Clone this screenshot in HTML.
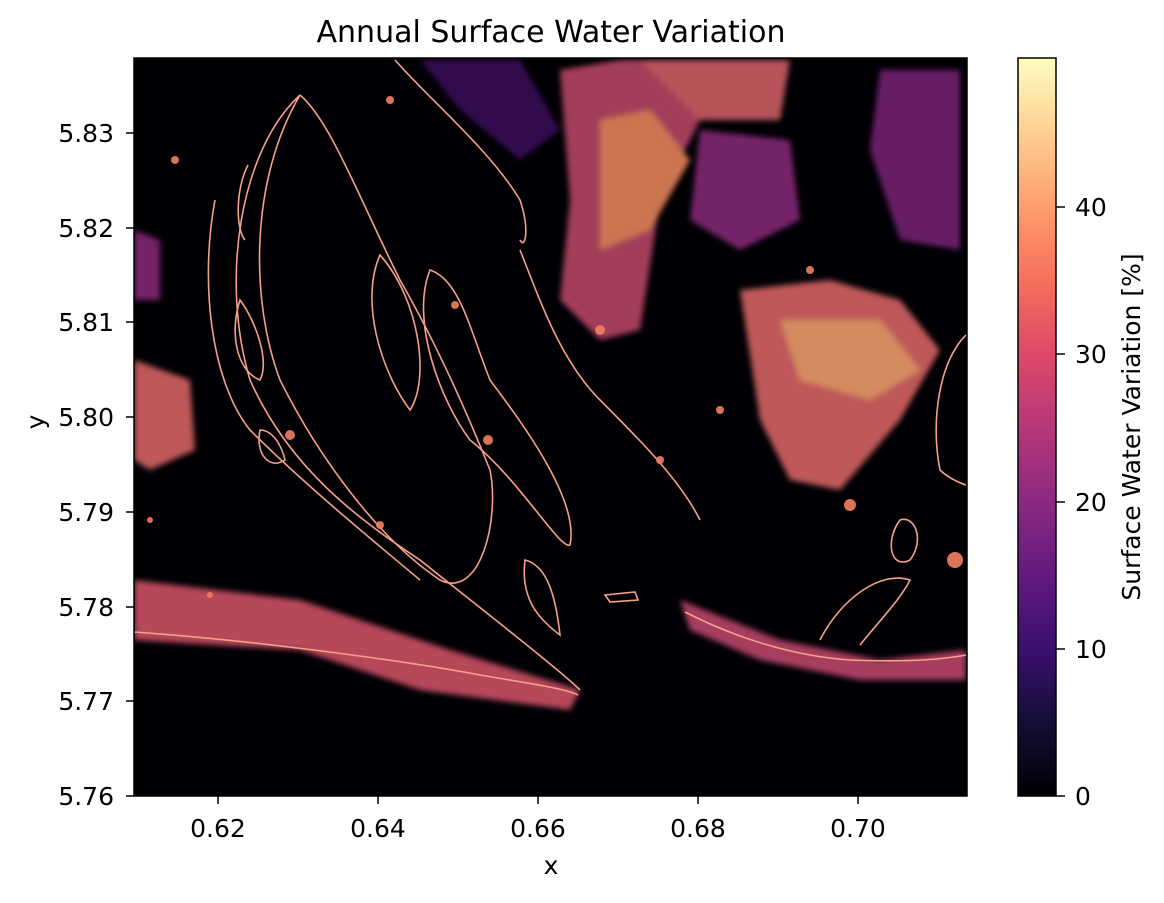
<!DOCTYPE html>
<html><head><meta charset="utf-8"><style>
body{margin:0;background:#fff;width:1164px;height:898px;overflow:hidden;font-family:"Liberation Sans","DejaVu Sans",sans-serif}
svg text{font-family:"DejaVu Sans","Liberation Sans",sans-serif;fill:#000}
</style></head><body>
<svg width="1164" height="898" viewBox="0 0 1164 898">
<defs>
<linearGradient id="mg" x1="0" y1="1" x2="0" y2="0">
<stop offset="0" stop-color="#000004"/><stop offset="0.1" stop-color="#140e36"/><stop offset="0.2" stop-color="#3b0f70"/><stop offset="0.3" stop-color="#641a80"/><stop offset="0.4" stop-color="#8c2981"/><stop offset="0.5" stop-color="#b73779"/><stop offset="0.6" stop-color="#de4968"/><stop offset="0.7" stop-color="#f7705c"/><stop offset="0.8" stop-color="#fe9f6d"/><stop offset="0.9" stop-color="#fecf92"/><stop offset="1" stop-color="#fcfdbf"/>
</linearGradient>
<filter id="bl"><feGaussianBlur stdDeviation="3"/></filter>
<clipPath id="cp"><rect x="134" y="58" width="833" height="738"/></clipPath>
</defs>
<text x="551" y="42" font-size="30" text-anchor="middle">Annual Surface Water Variation</text>
<rect x="134" y="58" width="833" height="738" fill="#000004"/>
<g clip-path="url(#cp)">
<g filter="url(#bl)" opacity="0.85">
<path d="M560 70 L620 60 L700 60 L700 120 L660 200 L640 330 L600 340 L560 300 L570 200 Z" fill="#c04a6a"/>
<path d="M600 120 L650 110 L690 160 L650 230 L600 250 Z" fill="#f08a5e"/>
<path d="M640 60 L790 60 L780 120 L700 120 Z" fill="#d8646a"/>
<path d="M700 130 L790 140 L800 220 L740 250 L690 220 Z" fill="#8a2a7a"/>
<path d="M740 290 L830 280 L900 300 L940 350 L900 420 L840 490 L790 480 L760 420 Z" fill="#e06868"/>
<path d="M780 320 L880 320 L920 370 L870 400 L800 380 Z" fill="#f9a470"/>
<path d="M880 70 L960 70 L960 250 L900 240 L870 150 Z" fill="#7a2478"/>
<path d="M134 360 L190 380 L195 450 L150 470 L134 460 Z" fill="#e06868"/>
<path d="M134 230 L160 240 L160 300 L134 300 Z" fill="#8a2a7a"/>
<path d="M134 580 L300 600 L450 650 L580 690 L570 710 L420 690 L300 650 L134 640 Z" fill="#d8546a"/>
<path d="M680 600 L780 640 L880 660 L966 650 L966 680 L860 680 L760 660 L690 630 Z" fill="#c64a70"/>
<path d="M420 60 L520 60 L560 130 L520 160 L460 110 Z" fill="#3a0f5a"/>
</g>
<g fill="none" stroke="#f6a08a" stroke-width="1.6">
<path d="M134 632 C250 640 400 660 480 675 C540 685 570 690 578 695"/>
<path d="M685 612 C720 630 780 655 850 660 C900 662 940 660 966 655"/>
<path d="M300 95 C240 150 220 280 250 380 C290 470 360 520 420 560 C470 600 560 670 580 690"/>
<path d="M300 95 C330 120 360 200 400 280 C440 350 470 420 490 470 C500 520 480 600 440 580 C380 540 320 460 280 380 C250 300 250 180 300 95"/>
<path d="M215 200 C200 280 210 380 250 430 C300 480 360 530 420 580"/>
<path d="M380 255 C360 300 380 370 410 410 C430 380 420 300 380 255Z"/>
<path d="M430 270 C410 320 440 400 470 440 C520 480 560 550 570 545 C580 500 520 420 490 380 C470 330 460 280 430 270Z"/>
<path d="M395 60 C430 100 490 150 520 200 C530 230 525 250 520 240"/>
<path d="M520 250 C540 300 560 360 600 400 C640 440 680 480 700 520"/>
<path d="M525 560 C520 600 540 620 560 635 C555 590 545 565 525 560Z"/>
<path d="M605 595 L635 592 L638 600 L610 602Z"/>
<path d="M966 335 C940 360 930 420 940 470 C950 480 966 485 966 485"/>
<path d="M820 640 C840 600 880 570 910 580 C900 600 880 620 860 645"/>
<path d="M900 520 C915 515 925 540 910 560 C890 570 885 540 900 520Z"/>
<path d="M248 165 C235 190 236 230 245 240"/>
<path d="M240 300 C230 330 235 370 260 380 C270 360 255 320 240 300Z"/>
<path d="M260 430 C255 455 270 470 285 460 C280 440 270 430 260 430Z"/>
</g>
<g fill="#f28060" opacity="0.9">
<circle cx="175" cy="160" r="4"/><circle cx="290" cy="435" r="5"/><circle cx="380" cy="525" r="4"/><circle cx="488" cy="440" r="5"/><circle cx="850" cy="505" r="6"/><circle cx="660" cy="460" r="4"/><circle cx="955" cy="560" r="8"/><circle cx="390" cy="100" r="4"/><circle cx="455" cy="305" r="4"/><circle cx="720" cy="410" r="4"/><circle cx="810" cy="270" r="4"/><circle cx="150" cy="520" r="3"/><circle cx="210" cy="595" r="3"/><circle cx="600" cy="330" r="5"/>
</g>
</g>
<rect x="134" y="58" width="833" height="738" fill="none" stroke="#000" stroke-width="1.5"/>
<g stroke="#000" stroke-width="1.5">
<line x1="218" y1="796" x2="218" y2="804"/><line x1="378" y1="796" x2="378" y2="804"/><line x1="538" y1="796" x2="538" y2="804"/><line x1="698" y1="796" x2="698" y2="804"/><line x1="858" y1="796" x2="858" y2="804"/>
<line x1="126" y1="796" x2="134" y2="796"/><line x1="126" y1="701" x2="134" y2="701"/><line x1="126" y1="607" x2="134" y2="607"/><line x1="126" y1="512" x2="134" y2="512"/><line x1="126" y1="417" x2="134" y2="417"/><line x1="126" y1="322" x2="134" y2="322"/><line x1="126" y1="228" x2="134" y2="228"/><line x1="126" y1="133" x2="134" y2="133"/>
</g>
<g font-size="25" text-anchor="middle">
<text x="218" y="837">0.62</text><text x="378" y="837">0.64</text><text x="538" y="837">0.66</text><text x="698" y="837">0.68</text><text x="858" y="837">0.70</text>
<text x="551" y="874">x</text>
</g>
<g font-size="25" text-anchor="end">
<text x="114" y="805">5.76</text><text x="114" y="710">5.77</text><text x="114" y="616">5.78</text><text x="114" y="521">5.79</text><text x="114" y="426">5.80</text><text x="114" y="331">5.81</text><text x="114" y="237">5.82</text><text x="114" y="142">5.83</text>
</g>
<text transform="translate(44,422) rotate(-90)" font-size="25" text-anchor="middle">y</text>
<rect x="1018" y="58" width="38" height="738" fill="url(#mg)" stroke="#000" stroke-width="1.5"/>
<g stroke="#000" stroke-width="1.5"><line x1="1056" y1="796" x2="1065" y2="796"/><line x1="1056" y1="649" x2="1065" y2="649"/><line x1="1056" y1="502" x2="1065" y2="502"/><line x1="1056" y1="354" x2="1065" y2="354"/><line x1="1056" y1="207" x2="1065" y2="207"/></g>
<g font-size="25"><text x="1075" y="805">0</text><text x="1075" y="658">10</text><text x="1075" y="511">20</text><text x="1075" y="363">30</text><text x="1075" y="216">40</text></g>
<text transform="translate(1140,427) rotate(-90)" font-size="25" text-anchor="middle">Surface Water Variation [%]</text>
</svg>
</body></html>
